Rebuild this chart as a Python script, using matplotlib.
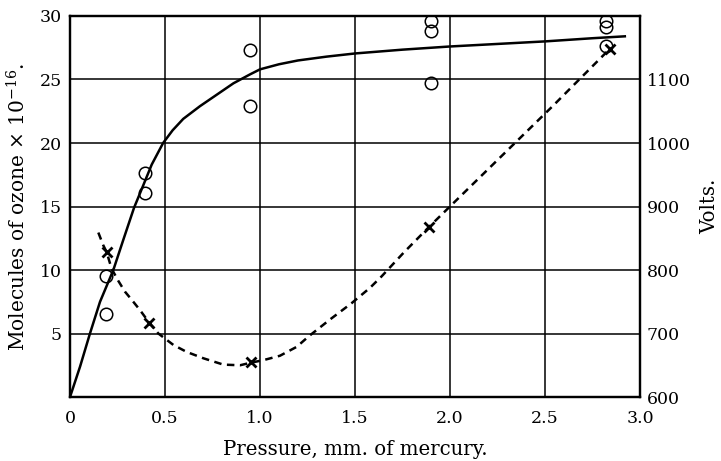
import matplotlib
matplotlib.use("Agg")
import matplotlib.pyplot as plt

plt.rcParams['font.family'] = ['DejaVu Serif']
plt.rcParams['mathtext.fontset'] = 'dejavuserif'

# ozone yield curve (molecules x 1e-16) vs pressure
curve_p = [0.0, 0.053, 0.105, 0.158, 0.228, 0.281, 0.337, 0.37, 0.43, 0.49,
           0.54, 0.596, 0.684, 0.772, 0.86, 0.947, 1.0, 1.1, 1.2, 1.35,
           1.5, 1.75, 2.0, 2.25, 2.5, 2.75, 2.92]
curve_oz = [0.0, 2.4, 5.0, 7.5, 10.0, 12.4, 14.9, 16.1, 18.3, 20.0,
            21.0, 21.9, 22.9, 23.8, 24.7, 25.4, 25.8, 26.2, 26.5, 26.8,
            27.05, 27.35, 27.6, 27.8, 28.0, 28.25, 28.4]

# measured ozone points (open circles)
obs_p = [0.187, 0.187, 0.395, 0.395, 0.947, 0.947, 1.898, 1.898, 1.898,
         2.82, 2.82, 2.82]
obs_oz = [6.5, 9.5, 17.6, 16.1, 27.3, 22.9, 29.6, 28.8, 24.7,
          29.6, 29.1, 27.6]

# voltage curve (dashed) and measured voltages (crosses)
volt_p = [0.149, 0.175, 0.193, 0.219, 0.254, 0.289, 0.325, 0.368, 0.417,
          0.465, 0.544, 0.614, 0.702, 0.807, 0.895, 0.951, 1.017, 1.105,
          1.193, 1.258, 1.368, 1.483, 1.579, 1.64, 1.755, 1.89, 2.54, 2.84]
volt_v = [859, 839, 828, 802, 783, 766, 753, 737, 717,
          700, 682, 671, 661, 651, 650, 654, 658, 665,
          679, 696, 722, 748, 772, 790, 827, 868, 1058, 1148]
cross_p = [0.193, 0.417, 0.951, 1.89, 2.84]
cross_v = [828, 717, 655, 868, 1148]

x_ticks = [0, 0.5, 1.0, 1.5, 2.0, 2.5, 3.0]
x_labels = ['0', '0.5', '1.0', '1.5', '2.0', '2.5', '3.0']
left_ticks = [5, 10, 15, 20, 25, 30]
right_ticks = [600, 700, 800, 900, 1000, 1100]

fig = plt.figure(figsize=(7.21, 4.61), dpi=100)
ax = fig.add_axes([0.0971, 0.1388, 0.7906, 0.8265])
ax2 = ax.twinx()

ax.plot(curve_p, curve_oz, color='black', lw=1.8, zorder=3)
ax.plot(obs_p, obs_oz, 'o', ms=9, mfc='none', mec='black', mew=1.1, zorder=4)

ax2.plot(volt_p, volt_v, color='black', lw=1.8, ls=(0, (3, 2.2)), zorder=3)
ax2.plot(cross_p, cross_v, 'x', ms=7, mec='black', mew=2, zorder=4)

ax.set_xlim(0, 3.0)
ax.set_ylim(0, 30)
ax2.set_ylim(600, 1200)

ax.set_xticks(x_ticks)
ax.set_xticklabels(x_labels)
ax.set_yticks(left_ticks)
ax2.set_yticks(right_ticks)

for a in (ax, ax2):
    a.tick_params(length=0, labelsize=12.5)
    for s in a.spines.values():
        s.set_linewidth(1.6)
ax.tick_params(axis='x', pad=9)
ax.tick_params(axis='y', pad=6)
ax2.tick_params(axis='y', pad=5)

ax.grid(True, color='black', lw=1.1)
ax.set_axisbelow(True)

ax.set_xlabel('Pressure, mm. of mercury.', fontsize=14.2, labelpad=10)
ax.set_ylabel('Molecules of ozone \u00d7 10$^{-16}$.', fontsize=14.5, labelpad=7)
ax2.set_ylabel('Volts.', fontsize=14.2, rotation=90)
ax2.yaxis.set_label_coords(1.105, 0.5)

fig.savefig('out.png', dpi=100)
